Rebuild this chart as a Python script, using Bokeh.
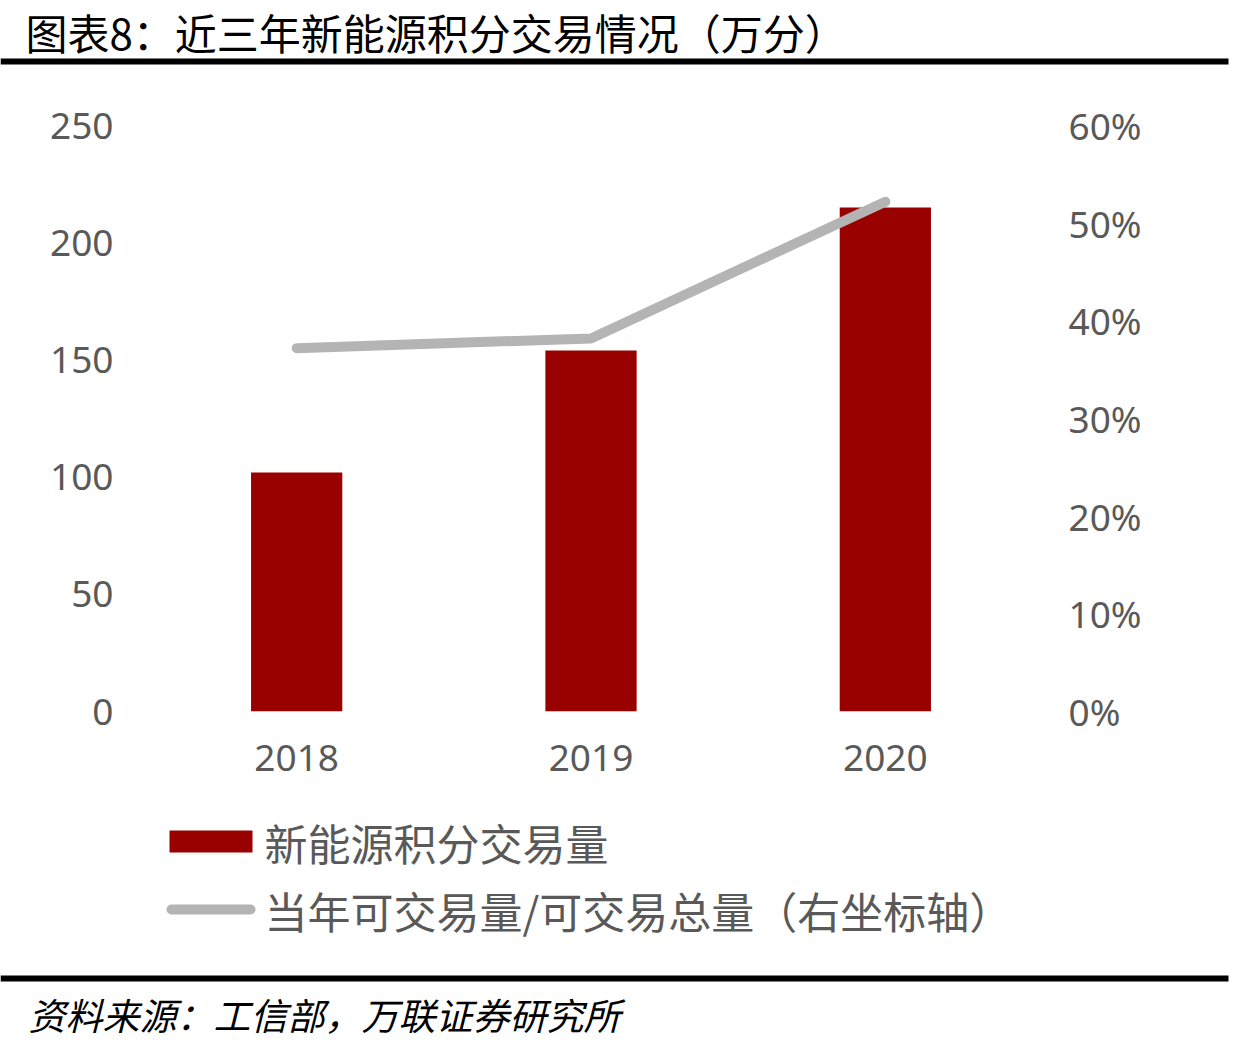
from bokeh.plotting import figure
from bokeh.models import (FactorRange, Range1d, LinearAxis, FixedTicker, NumeralTickFormatter)
from bokeh.core.properties import value
from bokeh.embed import file_html
from bokeh.resources import INLINE

# ---- data ----
years = ["2018", "2019", "2020"]
trade_volume = [102, 154, 215]          # 新能源积分交易量 (万分)
trade_ratio = [0.372, 0.382, 0.522]     # 当年可交易量/可交易总量
left_ticks = [0, 50, 100, 150, 200, 250]
right_ticks = [0, 0.1, 0.2, 0.3, 0.4, 0.5, 0.6]

title_text = "图表8：近三年新能源积分交易情况（万分）"
source_text = "资料来源：工信部，万联证券研究所"
bar_label = "新能源积分交易量"
line_label = "当年可交易量/可交易总量（右坐标轴）"

BAR_COLOR = "#990000"
LINE_COLOR = "#B4B4B4"
TICK_COLOR = "#595959"
CJK = "Noto Sans CJK SC"

W = 1246
HEAD_H = 70
MAIN_TOP, MAIN_BOT = 70, 790
FOOT_TOP, FOOT_BOT = 790, 1047
FL, FR, FT, FB = 149, 1032, 125, 711  # frame pixel edges (page coords)


def blank(height, y0, y1):
    # full-canvas frame; data values equal page pixels
    f = figure(width=W, height=height, x_range=Range1d(0, W), y_range=Range1d(y1, y0),
               output_backend="svg", toolbar_location=None,
               x_axis_location=None, y_axis_location=None,
               min_border=0, min_border_left=0, min_border_right=0,
               min_border_top=0, min_border_bottom=0)
    f.outline_line_color = None
    f.xgrid.grid_line_color = None
    f.ygrid.grid_line_color = None
    f.background_fill_color = "white"
    f.border_fill_color = "white"
    return f

# ---- header: title and rule ----
head = blank(HEAD_H, 0, HEAD_H)
head.text(x=[25], y=[31], text=[title_text], text_font=value(CJK), text_font_size="42px",
          text_color="black", text_baseline="middle", text_align="left")
head.quad(left=[0], right=[1228], top=[58], bottom=[64], fill_color="black", line_color=None)

# ---- main chart ----
p = figure(width=W, height=MAIN_BOT - MAIN_TOP, x_range=FactorRange(*years), y_range=Range1d(0, 250),
           output_backend="svg", toolbar_location=None,
           min_border_left=FL, min_border_right=W - FR,
           min_border_top=FT - MAIN_TOP, min_border_bottom=MAIN_BOT - FB)
p.outline_line_color = None
p.xgrid.grid_line_color = None
p.ygrid.grid_line_color = None
p.background_fill_color = "white"
p.border_fill_color = "white"
p.extra_y_ranges = {"pct": Range1d(0, 0.6)}

p.vbar(x=years, top=trade_volume, width=0.31, color=BAR_COLOR, line_color=None)
p.line(x=years, y=trade_ratio, y_range_name="pct", line_width=10,
       line_color=LINE_COLOR, line_cap="round", line_join="round")


def style_axis(ax, standoff):
    ax.axis_line_color = None
    ax.major_tick_line_color = None
    ax.minor_tick_line_color = None
    ax.major_tick_out = 0
    ax.major_tick_in = 0
    ax.minor_tick_out = 0
    ax.major_label_text_color = TICK_COLOR
    ax.major_label_text_font = "Noto Sans"
    ax.major_label_text_font_size = "37px"
    ax.major_label_standoff = standoff


p.yaxis.ticker = FixedTicker(ticks=left_ticks)
style_axis(p.yaxis[0], 36)
style_axis(p.xaxis[0], 33)
ra = LinearAxis(y_range_name="pct", ticker=FixedTicker(ticks=right_ticks),
                formatter=NumeralTickFormatter(format="0%"))
style_axis(ra, 36)
p.add_layout(ra, "right")

# ---- footer: legend, rule, source ----
foot = blank(FOOT_BOT - FOOT_TOP, FOOT_TOP, FOOT_BOT)
foot.quad(left=[169], right=[252], top=[830], bottom=[852], fill_color=BAR_COLOR, line_color=None)
foot.line(x=[171, 250], y=[909, 909], line_width=10, line_color=LINE_COLOR, line_cap="round")
foot.text(x=[264, 264], y=[841, 909], text=[bar_label, line_label], text_font=value(CJK),
          text_font_size="43px", text_color=TICK_COLOR, text_baseline="middle", text_align="left")
foot.quad(left=[0], right=[1228], top=[975], bottom=[981], fill_color="black", line_color=None)
foot.text(x=[28], y=[1013], text=[source_text], text_font=value(CJK), text_font_size="37px",
          text_font_style="italic", text_color="black", text_baseline="middle", text_align="left")

open("out.html", "w").write(file_html([head, p, foot], INLINE))
